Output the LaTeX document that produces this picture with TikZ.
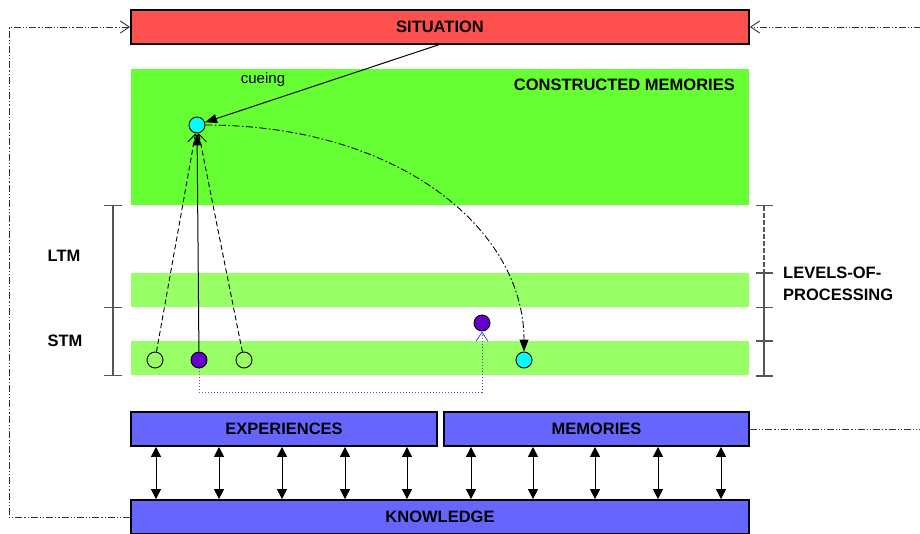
\documentclass[tikz,border=0pt]{standalone}
\usepackage{fontspec}
\setmainfont{Liberation Sans}
\usetikzlibrary{arrows.meta,calc}
\definecolor{sitred}{HTML}{FF5050}
\definecolor{gbig}{HTML}{66FF33}
\definecolor{gband}{HTML}{99FF66}
\definecolor{boxblue}{HTML}{6666FF}
\definecolor{cyanc}{HTML}{00FFFF}
\definecolor{purp}{HTML}{6600CC}
\definecolor{dotblue}{HTML}{5555CC}
\definecolor{brk}{HTML}{555555}
\begin{document}
\begin{tikzpicture}[x=1pt,y=-1pt,
  box/.style={draw=black,line width=1.8pt,minimum height=34pt,inner sep=0pt,font=\bfseries\fontsize{16.5}{18}\selectfont},
  lbl/.style={font=\bfseries\fontsize{16.5}{22}\selectfont,inner sep=0pt},
  mcirc/.style={circle,draw=black,line width=0.9pt,minimum size=16pt,inner sep=0pt},
  ftri/.style={-{Triangle[length=12pt,width=9pt]}},
  obarb/.style={-{Straight Barb[length=9pt,width=12pt,line width=0.9pt]}},
  dbl/.style={line width=1pt,{Triangle[length=10pt,width=10pt]}-{Triangle[length=10pt,width=10pt]}},
  fb/.style={line width=1pt,dash pattern=on 7pt off 2pt on 1.2pt off 2pt on 1.2pt off 2pt,draw=black!80},
  tick/.style={line width=1.1pt,draw=brk}]
\useasboundingbox (0,0) rectangle (920,533);
\clip (0,0) rectangle (920,533);
% green areas
\fill[gbig] (131,69) rectangle (749,205);
\fill[gband] (131,273) rectangle (749,307);
\fill[gband] (131,341) rectangle (749,375);
% boxes
\node[box,fill=sitred,minimum width=618pt] (sit) at (440,27) {SITUATION};
\node[box,fill=boxblue,minimum width=306pt] (exp) at (284,429) {EXPERIENCES};
\node[box,fill=boxblue,minimum width=305pt] (mem) at (596.5,429) {MEMORIES};
\node[box,fill=boxblue,minimum width=618pt] (kn) at (440,517) {KNOWLEDGE};
% labels
\node[lbl,anchor=east] (cm) at (735,85) {CONSTRUCTED MEMORIES};
\node[inner sep=0pt,font=\fontsize{15}{17}\selectfont] (cue) at (263,80) {cueing};
\node[lbl] (ltm) at (64,256) {LTM};
\node[lbl] (stm) at (65,341) {STM};
\node[lbl,anchor=west,align=left] (lop) at (783,284) {LEVELS-OF-\\PROCESSING};
% left bracket
\draw[tick] (113,205.5) -- (113,375.5);
\foreach \y in {205.5,307.5,375.5} \draw[tick] (104,\y) -- (122,\y);
% right bracket
\draw[tick,dash pattern=on 5pt off 2pt] (764,205.5) -- (764,273);
\draw[tick] (764,273) -- (764,376);
\foreach \y in {205.5,273,307.5,341,376} \draw[tick] (756,\y) -- (773,\y);
% circles
\node[mcirc,fill=cyanc] (c1) at (197,125) {};
\node[mcirc] (o1) at (155,360) {};
\node[mcirc,fill=purp] (p1) at (199,360) {};
\node[mcirc] (o2) at (244,360) {};
\node[mcirc,fill=purp] (p2) at (482,323) {};
\node[mcirc,fill=cyanc] (c2) at (524,360) {};
% cueing arrow
\coordinate (cuestart) at (441,44);
\draw[ftri,line width=1pt] (cuestart) -- (c1);
% bundle
\draw[obarb,line width=0.9pt,dash pattern=on 5pt off 3pt] (o1) -- (c1);
\draw[obarb,line width=0.9pt,dash pattern=on 5pt off 3pt] (o2) -- (c1);
\draw[ftri,line width=1pt] (p1) -- (c1);
% curve
\draw[ftri,line width=0.9pt,dash pattern=on 7pt off 2.5pt on 1.5pt off 2.5pt] (c1.east) .. controls (400,125) and (524,230) .. (c2.north);
% dotted blue
\coordinate (dotc) at (340,392);
\draw[dotblue,line width=1pt,dotted,obarb] (p1.south) |- (dotc) -| (p2.south);
% double arrows
\foreach \x in {156,219,282,345,407} \draw[dbl] (exp.south -| \x,0) -- (kn.north -| \x,0);
\foreach \x in {471,533,595,658,721} \draw[dbl] (mem.south -| \x,0) -- (kn.north -| \x,0);
% feedback
\coordinate (lfb) at (9,517);
\draw[fb,obarb] (kn.west) -- (lfb) |- (sit.west);
\coordinate (rfb1) at (921,429);
\coordinate (rfb2) at (921,27);
\draw[fb] (mem.east) -- (rfb1);
\draw[fb,obarb] (rfb2) -- (sit.east);
\end{tikzpicture}
\end{document}
